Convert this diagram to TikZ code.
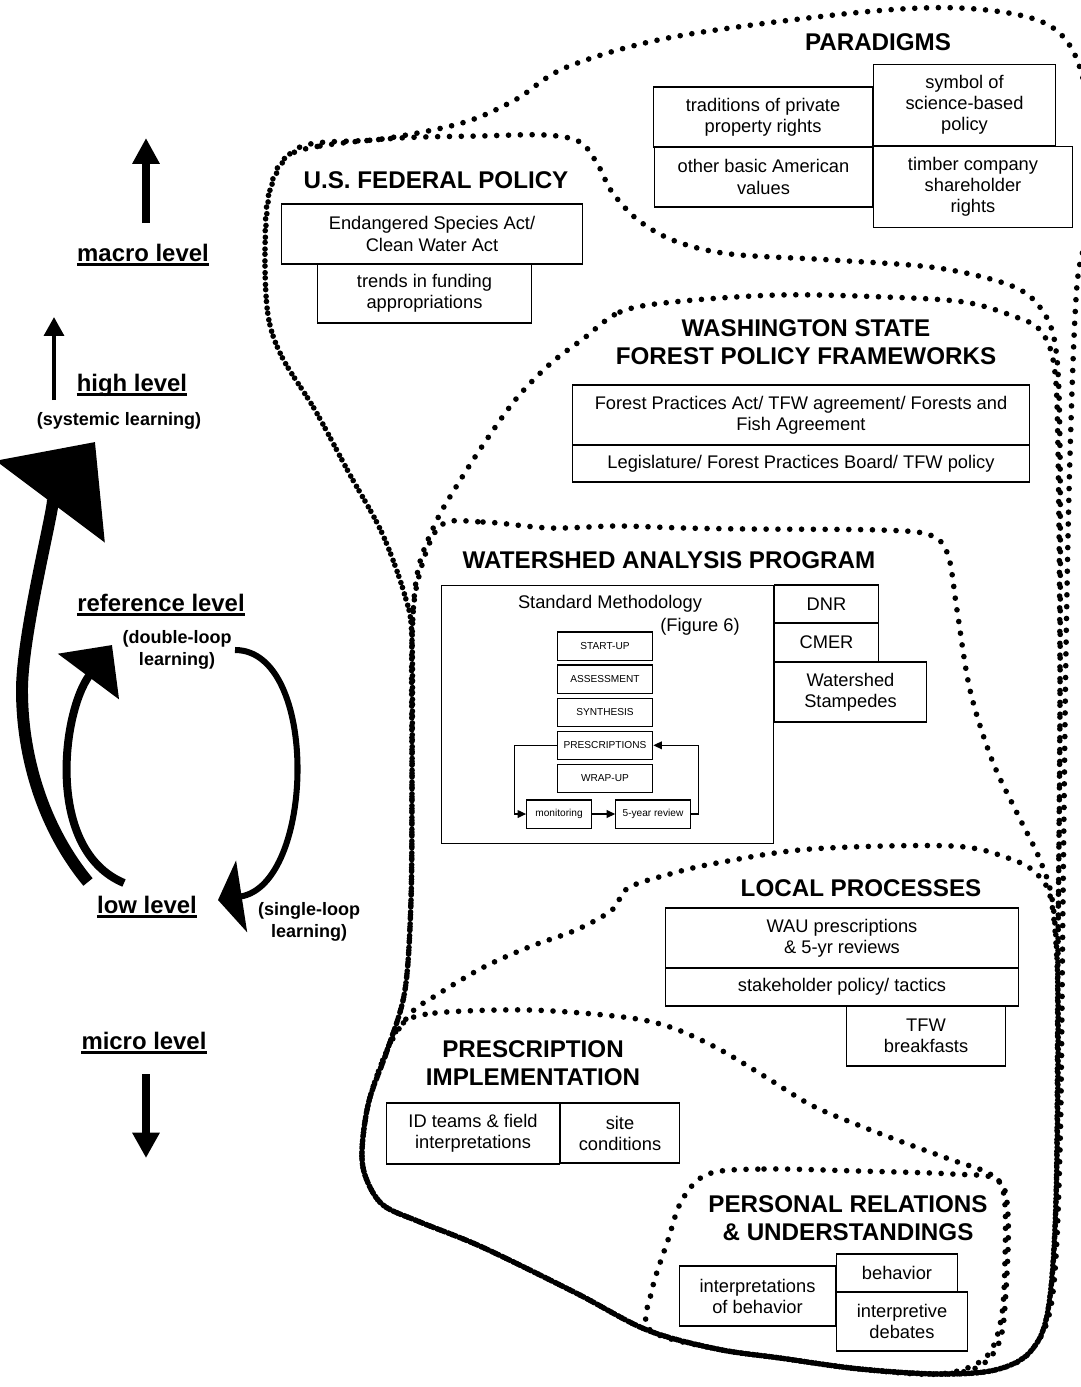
\documentclass[tikz,border=0pt]{standalone}
\usepackage{fontspec}
\setmainfont{Liberation Sans}
\usetikzlibrary{arrows.meta}

\begin{document}
\begin{tikzpicture}[x=0.025cm, y=-0.025cm,
    box/.style={draw, line width=0.9pt, fill=white, inner sep=0pt, align=center,
      font=\fontsize{13}{15}\selectfont},
    boxsize/.style 2 args={minimum width={(#1)*0.7087pt}, minimum height={(#2)*0.7087pt}},
    stage/.style={draw, line width=0.8pt, fill=white, inner sep=0pt,
      minimum width=68pt, minimum height=20pt, font=\fontsize{7.2}{8.5}\selectfont},
    heading/.style={align=center, font=\bfseries\fontsize{17.2}{20}\selectfont},
    level/.style={anchor=base, inner xsep=0pt, font=\bfseries\fontsize{17}{20}\selectfont},
    learning/.style={align=center, font=\bfseries\fontsize{12.8}{15.5}\selectfont},
    blob/.style={line width=4pt, line cap=round, dash pattern=on 0pt off 8.4pt},
    uline/.style={line width=2.6pt},
    flow/.style={line width=0.8pt, -{Triangle[width=5.5pt,length=6pt]}}]

  \useasboundingbox (0,0) rectangle (1080,1387);

  % the nested dotted outlines
  \draw[blob] plot[smooth cycle, tension=0.55] coordinates {
    (300,147) (382,139) (462,123) (515,100) (567,67) (673,37) (853,13) (960,8)
    (1040,21) (1075,55) (1092,130) (1090,220) (1077,285) (1070,455) (1066,650)
    (1063,900) (1060,1150) (1052,1300) (1030,1352) (995,1370) (940,1374) (860,1369)
    (780,1358) (717,1349) (647,1330) (576,1293) (482,1247) (420,1222) (383,1205)
    (366,1178) (362,1150) (369,1101) (388,1048) (405,990) (411,900) (412,780)
    (412,640) (405,596) (382,533) (349,473) (315,410) (282,357) (268,315) (265,250)
    (270,190)};
  \draw[blob] plot[smooth cycle, tension=0.55] coordinates {
    (285,158) (320,146) (400,138) (480,136) (545,135) (580,142) (598,165) (612,192)
    (638,220) (675,241) (730,254) (832,260) (938,268) (1012,286) (1042,310) (1056,350)
    (1060,450) (1060,700) (1058,950) (1056,1200) (1048,1310) (1030,1352) (995,1370)
    (940,1374) (860,1369) (780,1358) (717,1349) (647,1330) (576,1293) (482,1247)
    (420,1222) (383,1205) (366,1178) (362,1150) (369,1101) (388,1048) (405,990)
    (411,900) (412,780) (412,640) (405,596) (382,533) (349,473) (315,410) (282,357)
    (268,315) (265,250) (270,190)};
  \draw[blob] plot[smooth cycle, tension=0.55] coordinates {
    (583,339) (620,312) (673,302) (779,295) (885,297) (964,302) (1013,316) (1040,330)
    (1054,365) (1058,450) (1060,700) (1058,950) (1056,1200) (1048,1310) (1030,1352)
    (995,1370) (940,1374) (860,1369) (780,1358) (717,1349) (647,1330) (576,1293)
    (482,1247) (420,1222) (383,1205) (366,1178) (362,1150) (369,1101) (388,1048)
    (405,990) (411,900) (412,780) (412,640) (418,570) (436,522) (456,487) (483,445)
    (516,399) (550,364)};
  \draw[blob] plot[smooth cycle, tension=0.55] coordinates {
    (440,526) (483,522) (550,528) (617,526) (683,528) (750,529) (880,530) (930,535)
    (948,555) (957,610) (970,690) (992,760) (1018,815) (1040,860) (1053,905)
    (1058,1000) (1056,1200) (1048,1310) (1030,1352) (995,1370) (940,1374) (860,1369)
    (780,1358) (717,1349) (647,1330) (576,1293) (482,1247) (420,1222) (383,1205)
    (366,1178) (362,1150) (369,1101) (388,1048) (405,990) (411,900) (412,780)
    (412,640) (418,580)};
  \draw[blob] plot[smooth cycle, tension=0.55] coordinates {
    (628,888) (670,874) (717,863) (811,849) (952,846) (1008,858) (1037,874)
    (1052,905) (1058,1000) (1056,1200) (1048,1310) (1030,1352) (995,1370) (940,1374)
    (860,1369) (780,1358) (717,1349) (647,1330) (576,1293) (482,1247) (420,1222)
    (383,1205) (366,1178) (362,1150) (369,1101) (388,1048) (411,1013) (435,996)
    (482,968) (529,947) (576,930) (612,910)};
  \draw[blob] plot[smooth cycle, tension=0.55] coordinates {
    (402,1024) (435,1013) (529,1010) (623,1017) (670,1027) (717,1048) (764,1076)
    (811,1105) (858,1125) (905,1143) (952,1160) (990,1174) (1004,1195) (1005,1260)
    (1001,1320) (985,1358) (940,1374) (860,1369) (780,1358) (717,1349) (647,1330)
    (576,1293) (482,1247) (420,1222) (383,1205) (366,1178) (362,1150) (369,1101)
    (385,1055)};
  \draw[blob] plot[smooth cycle, tension=0.55] coordinates {
    (708,1174) (764,1169) (858,1171) (952,1174) (998,1180) (1008,1215) (1006,1290)
    (1000,1340) (980,1366) (940,1374) (860,1369) (780,1358) (717,1349) (650,1330)
    (652,1290) (668,1240) (682,1200)};

  % paradigms
  \node[heading] (paradigms) at (878,42) {PARADIGMS};
  \node[box, boxsize={220}{60}] (tradition) at (763,117) {traditions of private\\property rights};
  \node[box, boxsize={183}{82}] (symbol) at (964.5,105) {symbol of\\science-based\\policy};
  \node[box, boxsize={219}{60}] (values) at (763.5,177) {other basic American\\values};
  \node[box, boxsize={200}{82}] (shareholder) at (973,187) {timber company\\shareholder\\rights};

  % federal policy
  \node[heading] (federal) at (436,180) {U.S. FEDERAL POLICY};
  \node[box, boxsize={302}{60}] (esa) at (432,234) {Endangered Species Act/\\Clean Water Act};
  \node[box, boxsize={215}{59}] (funding) at (424.5,293.5) {trends in funding\\appropriations};

  % state frameworks
  \node[heading] (wastate) at (806,342) {WASHINGTON STATE\\FOREST POLICY FRAMEWORKS};
  \node[box, boxsize={458}{60}] (fpa) at (801,415) {Forest Practices Act/ TFW agreement/ Forests and\\Fish Agreement};
  \node[box, boxsize={458}{37}] (board) at (801,463.5) {Legislature/ Forest Practices Board/ TFW policy};

  % watershed analysis program
  \node[heading] (wap) at (669,560) {WATERSHED ANALYSIS PROGRAM};
  \node[box, boxsize={333}{259}] (method) at (607.5,714.5) {};
  \node[font=\fontsize{13}{15}\selectfont] (methodtitle) at (610,604) {Standard Methodology};
  \node[font=\fontsize{13}{15}\selectfont] (figref) at (700,627) {(Figure 6)};
  \foreach \name/\stagetext [count=\i] in {startup/START-UP, assess/ASSESSMENT,
      synth/SYNTHESIS, prescr/PRESCRIPTIONS, wrapup/WRAP-UP} {
    \node[stage] (\name) at (605, {646 + 33.1*(\i-1)}) {\stagetext};
  }
  \node[stage, minimum width=46pt] (monitor) at (559,814) {monitoring};
  \node[stage, minimum width=53pt] (review) at (653,814) {5-year review};
  \draw[flow] (prescr.west) -- ++(-42,0) |- (monitor.west);
  \draw[flow] (monitor) -- (review);
  \draw[flow] (review.east) -- ++(8,0) |- (prescr.east);
  \node[box, boxsize={105}{38}] (dnr) at (826.5,604) {DNR};
  \node[box, boxsize={105}{39}] (cmer) at (826.5,642.5) {CMER};
  \node[box, boxsize={153}{60}] (stampede) at (850.5,692) {Watershed\\Stampedes};

  % local processes
  \node[heading] (local) at (861,888) {LOCAL PROCESSES};
  \node[box, boxsize={354}{60}] (wau) at (842,938) {WAU prescriptions\\\& 5-yr reviews};
  \node[box, boxsize={354}{38}] (tactics) at (842,987) {stakeholder policy/ tactics};
  \node[box, boxsize={160}{60}] (breakfast) at (926,1036) {TFW\\breakfasts};

  % prescription implementation
  \node[heading] (implement) at (533,1063) {PRESCRIPTION\\IMPLEMENTATION};
  \node[box, boxsize={174}{61}] (idteam) at (473,1133.5) {ID teams \& field\\interpretations};
  \node[box, boxsize={120}{60}] (site) at (620,1133) {site\\conditions};

  % personal relations
  \node[heading] (personal) at (848,1218) {PERSONAL RELATIONS\\\& UNDERSTANDINGS};
  \node[box, boxsize={157}{60}] (interp) at (757.5,1296) {interpretations\\of behavior};
  \node[box, boxsize={122}{38}] (behavior) at (897,1273) {behavior};
  \node[box, boxsize={132}{59}] (debate) at (902,1321.5) {interpretive\\debates};

  % levels on the left
  \node[level] (macro) at (143,261) {macro level};
  \node[level] (high) at (132,391) {high level};
  \node[learning] (systemic) at (119,421) {(systemic learning)};
  \node[level] (reference) at (161,611) {reference level};
  \node[learning] (double) at (177,650) {(double-loop\\learning)};
  \node[level] (low) at (147,913) {low level};
  \node[learning] (single) at (309,922) {(single-loop\\learning)};
  \node[level] (micro) at (144,1049) {micro level};
  \foreach \lvl in {macro, high, reference, low, micro} {
    \draw[uline] ([yshift=-2.4pt]\lvl.base west) -- ([yshift=-2.4pt]\lvl.base east);
  }

  \coordinate (macrofoot) at (146,223);
  \coordinate (macrotop) at (146,138);
  \coordinate (highfoot) at (54,400);
  \coordinate (hightop) at (54,317);
  \coordinate (microtop) at (146,1074);
  \coordinate (microfoot) at (146,1158);
  \draw[line width=5pt, -{Triangle[width=18.4pt,length=18.4pt]}] (macrofoot) -- (macrotop);
  \draw[line width=3pt, -{Triangle[width=14pt,length=13.5pt]}] (highfoot) -- (hightop);
  \draw[line width=5pt, -{Triangle[width=18.4pt,length=18pt]}] (microtop) -- (microfoot);

  % learning loops
  \coordinate (systail) at (88,882);
  \coordinate (sysbend) at (22,690);
  \coordinate (systip) at (95,442);
  \coordinate (dbltail) at (124,883);
  \coordinate (dbltip) at (112,645);
  \coordinate (sngtail) at (235,650);
  \coordinate (sngtip) at (218,900);
  \draw[line width=8.5pt, -{Triangle[width=95pt,length=53pt]}]
    (systail) .. controls (45,830) and (22,760) .. (sysbend)
    .. controls (22,630) and (59,490) .. (systip);
  \draw[line width=5.7pt, -{Triangle[width=53pt,length=28pt]}]
    (dbltail) .. controls (45,850) and (62,712) .. (dbltip);
  \draw[line width=4.3pt, -{Triangle[width=51pt,length=17pt]}]
    (sngtail) .. controls (320,650) and (315,885) .. (sngtip);
\end{tikzpicture}
\end{document}
